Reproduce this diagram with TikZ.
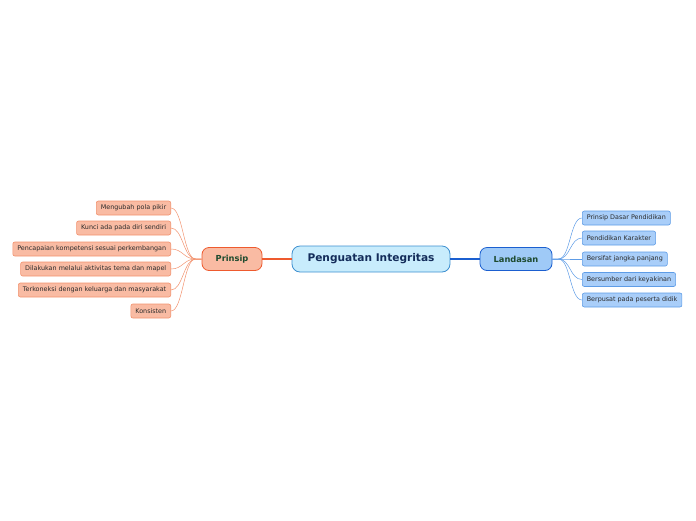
\documentclass[tikz,border=0pt]{standalone}
\usepackage{fontspec}
\setmainfont{DejaVu Sans}
\definecolor{cfill}{HTML}{C8ECFC}
\definecolor{cdraw}{HTML}{3D8FD0}
\definecolor{ctext}{HTML}{132C5A}
\definecolor{pfill}{HTML}{F9BBA3}
\definecolor{pdraw}{HTML}{EE5A2E}
\definecolor{lfill}{HTML}{9FCAF7}
\definecolor{ldraw}{HTML}{1B5FD0}
\definecolor{gtext}{HTML}{1D4A2E}
\definecolor{plfill}{HTML}{F9BBA3}
\definecolor{pldraw}{HTML}{F2926E}
\definecolor{llfill}{HTML}{A9CEF9}
\definecolor{lldraw}{HTML}{5E9CE6}
\definecolor{leaftext}{HTML}{2B2B2B}
\tikzset{
  centre/.style={draw=cdraw,fill=cfill,line width=0.8pt,rounded corners=8pt,minimum width=158pt,minimum height=26pt,font=\bfseries\fontsize{10.6}{12}\selectfont,text=ctext,inner sep=0pt},
  mainp/.style={draw=pdraw,fill=pfill,line width=0.8pt,rounded corners=7pt,minimum width=60pt,minimum height=23pt,font=\bfseries\fontsize{8.3}{9}\selectfont,text=gtext,inner sep=0pt},
  mainl/.style={draw=ldraw,fill=lfill,line width=0.8pt,rounded corners=7pt,minimum width=72pt,minimum height=23pt,font=\bfseries\fontsize{8.3}{9}\selectfont,text=gtext,inner sep=0pt},
  pleaf/.style={draw=pldraw,fill=plfill,line width=0.6pt,rounded corners=2pt,minimum height=14pt,inner xsep=4.5pt,inner ysep=0pt,font=\fontsize{6.4}{7}\selectfont,text=leaftext,anchor=east},
  lleaf/.style={draw=lldraw,fill=llfill,line width=0.6pt,rounded corners=2pt,minimum height=14pt,inner xsep=4.5pt,inner ysep=0pt,font=\fontsize{6.4}{7}\selectfont,text=leaftext,anchor=west},
  pcon/.style={draw=pldraw,line width=0.5pt},
  lcon/.style={draw=lldraw,line width=0.5pt},
  pmain/.style={draw=pdraw,line width=1.6pt},
  lmain/.style={draw=ldraw,line width=1.6pt},
}
\begin{document}
\begin{tikzpicture}[x=1pt,y=-1pt]
\useasboundingbox (0,0) rectangle (696,520);
\node[centre] (c) at (371,259) {Penguatan Integritas};
\node[mainp] (p) at (232,259) {Prinsip};
\node[mainl] (l) at (516,259) {Landasan};
\draw[pmain] (c.west) -- (p.east);
\draw[lmain] (c.east) -- (l.west);
\node[pleaf] (p1) at (171,208) {Mengubah pola pikir};
\node[pleaf] (p2) at (171,228) {Kunci ada pada diri sendiri};
\node[pleaf] (p3) at (171,249) {Pencapaian kompetensi sesuai perkembangan};
\node[pleaf] (p4) at (171,269) {Dilakukan melalui aktivitas tema dan mapel};
\node[pleaf] (p5) at (171,290) {Terkoneksi dengan keluarga dan masyarakat};
\node[pleaf] (p6) at (171,311) {Konsisten};
\node[lleaf] (l1) at (582,218) {Prinsip Dasar Pendidikan};
\node[lleaf] (l2) at (582,238) {Pendidikan Karakter};
\node[lleaf] (l3) at (582,259) {Bersifat jangka panjang};
\node[lleaf] (l4) at (582,279.5) {Bersumber dari keyakinan};
\node[lleaf] (l5) at (582,300) {Berpusat pada peserta didik};
\foreach \n in {p1,p2,p3,p4,p5,p6}
  \draw[pcon] (p.west) -- ++(-6,0) .. controls +(-12,0) and +(12,0) .. (\n.east);
\foreach \n in {l1,l2,l3,l4,l5}
  \draw[lcon] (l.east) -- ++(6,0) .. controls +(12,0) and +(-12,0) .. (\n.west);
\end{tikzpicture}
\end{document}
